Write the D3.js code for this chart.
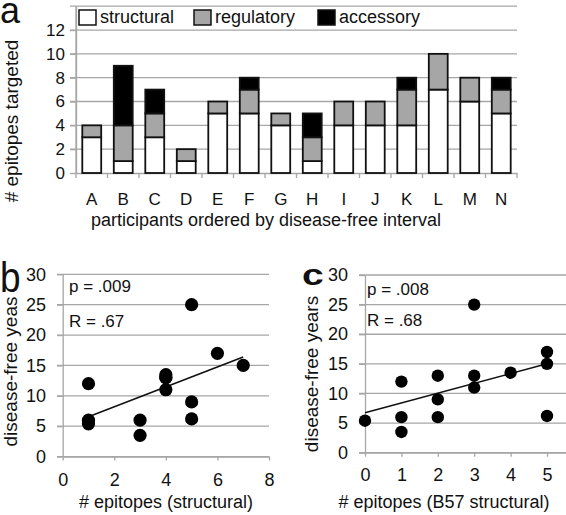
<!DOCTYPE html>
<html>
<head>
<meta charset="utf-8">
<script src="https://cdn.jsdelivr.net/npm/d3@7"></script>
<style>
  html, body { margin: 0; padding: 0; background: #fff; }
  svg { display: block; }
</style>
</head>
<body>
<svg id="chart" width="566" height="515"></svg>
<script>
// ---------- DATA ----------
const categories = ["A","B","C","D","E","F","G","H","I","J","K","L","M","N"];
const structural = [3,1,3,1,5,5,4,1,4,4,4,7,6,5];
const regulatory = [1,3,2,1,1,2,1,2,2,2,3,3,2,2];
const accessory  = [0,5,2,0,0,1,0,2,0,0,1,0,0,1];
const seriesNames = ["structural","regulatory","accessory"];
const seriesColors = ["#ffffff","#a6a6a6","#000000"];
const yTicksA = [0,2,4,6,8,10,12];
const gridA = [2,4,6,8,10,12,14];

const diseaseFree = [3.5,5.4,6,6,6.2,9,11,12,13,13,13.5,15,17,25];
const epitopesB57 = [1,0,1,2,5,2,3,1,2,3,4,5,5,3];
const xTicksB = [0,2,4,6,8];
const xTicksC = [0,1,2,3,4,5];
const yTicksBC = [0,5,10,15,20,25,30];
const statsB = ["p = .009","R = .67"];
const statsC = ["p = .008","R = .68"];

// ---------- SETUP ----------
const FONT = "'Liberation Sans', Arial, Helvetica, sans-serif";
const GRID = "#a6a6a6";
const svg = d3.select("#chart").style("font-family", FONT);
svg.append("rect").attr("width",566).attr("height",515).attr("fill","#fff");

// ---------- PANEL A ----------
const xA = d3.scaleBand().domain(categories).range([76, 517]).padding(0);
const yA = d3.scaleLinear().domain([0,14]).range([173, 6.2]);
const gA = svg.append("g");

gA.selectAll("line.grid").data(gridA).join("line")
  .attr("x1", 70).attr("x2", 517)
  .attr("y1", d => yA(d)).attr("y2", d => yA(d))
  .attr("stroke", GRID).attr("stroke-width", 1.3);

// y axis
const axA = gA.append("g").attr("transform","translate(76,0)")
  .call(d3.axisLeft(yA).tickValues(yTicksA).tickSize(6).tickSizeOuter(0).tickPadding(5));
axA.select(".domain").attr("stroke", GRID).attr("stroke-width",1.3);
axA.selectAll(".tick line").attr("stroke", GRID).attr("stroke-width",1.3);
axA.selectAll("text").attr("font-size", 17).attr("font-family", FONT).attr("fill","#111");
gA.append("line").attr("x1",76).attr("x2",76).attr("y1",yA(14)).attr("y2",yA(0))
  .attr("stroke",GRID).attr("stroke-width",1.3);

// x axis
const axAx = gA.append("g").attr("transform",`translate(0,${yA(0)})`)
  .call(d3.axisBottom(xA).tickSize(0).tickPadding(20));
axAx.select(".domain").attr("stroke", GRID).attr("stroke-width",1.3);
axAx.selectAll("text").attr("font-size", 17).attr("font-family", FONT).attr("fill","#111");
const bounds = categories.map(c => xA(c)).concat([xA.range()[1]]);
gA.selectAll("line.xt").data(bounds).join("line")
  .attr("x1", d => d).attr("x2", d => d)
  .attr("y1", yA(0)).attr("y2", yA(0)+5)
  .attr("stroke", GRID).attr("stroke-width",1.3);

// stacked bars
const rows = categories.map((c,i) => ({cat:c, structural:structural[i], regulatory:regulatory[i], accessory:accessory[i]}));
const stacked = d3.stack().keys(seriesNames)(rows);
const bw = xA.bandwidth()*0.6;
gA.selectAll("g.layer").data(stacked).join("g")
  .attr("fill", (d,i) => seriesColors[i])
  .selectAll("rect").data(d => d.filter(s => s[1] > s[0])).join("rect")
  .attr("x", d => xA(d.data.cat) + xA.bandwidth()*0.2)
  .attr("width", bw)
  .attr("y", d => yA(d[1]))
  .attr("height", d => yA(d[0]) - yA(d[1]))
  .attr("stroke","#111").attr("stroke-width",1.8);

// legend
const legX = [79, 194, 318];
seriesNames.forEach((n,i) => {
  gA.append("rect").attr("x", legX[i]).attr("y", 10).attr("width", 17).attr("height", 15)
    .attr("fill", seriesColors[i]).attr("stroke","#111").attr("stroke-width",1.5);
  gA.append("text").attr("x", legX[i]+21).attr("y", 23).text(n)
    .attr("font-size", 18).attr("fill","#111");
});

// titles
gA.append("text").attr("x", 266).attr("y", 226).attr("text-anchor","middle")
  .attr("font-size", 18).attr("fill","#111").text("participants ordered by disease-free interval");
gA.append("text").attr("transform","translate(17.5,121) rotate(-90)").attr("text-anchor","middle")
  .attr("font-size", 19).attr("fill","#111").text("# epitopes targeted");
svg.append("text").attr("x", 0).attr("y", 23).attr("font-size", 36).attr("fill","#111").text("a");

// ---------- SCATTER PANELS ----------
function scatter(opts) {
  const {xs, ys, xDomain, xRange, yRange, xTicks, gridLeft, stats, statsX, statsY,
         title, titleX, ytitle, ytitleX, ytitleY, r, labelPad} = opts;
  const x = d3.scaleLinear().domain(xDomain).range(xRange);
  const y = d3.scaleLinear().domain([0,30]).range(yRange);
  const g = svg.append("g");
  const xEnd = xRange[1];
  g.selectAll("line.grid").data(yTicksBC).join("line")
    .attr("x1", gridLeft).attr("x2", xEnd)
    .attr("y1", d => y(d)).attr("y2", d => y(d))
    .attr("stroke", GRID).attr("stroke-width", 1.3);
  const ay = g.append("g").attr("transform", `translate(${x(0)},0)`)
    .call(d3.axisLeft(y).tickValues(yTicksBC).tickSize(x(0)-gridLeft).tickSizeOuter(0).tickPadding(11));
  ay.select(".domain").attr("stroke", GRID).attr("stroke-width",1.3);
  ay.selectAll(".tick line").attr("stroke", GRID).attr("stroke-width",1.3);
  ay.selectAll("text").attr("font-size", 18).attr("font-family", FONT).attr("fill","#111");
  const ax = g.append("g").attr("transform", `translate(0,${y(0)})`)
    .call(d3.axisBottom(x).tickValues(xTicks).tickFormat(d3.format("d")).tickSize(4).tickSizeOuter(0).tickPadding(labelPad));
  ax.select(".domain").attr("stroke", GRID).attr("stroke-width",1.3);
  ax.selectAll(".tick line").attr("stroke", GRID).attr("stroke-width",1.3);
  ax.selectAll("text").attr("font-size", 18).attr("font-family", FONT).attr("fill","#111");

  // regression line (least squares)
  const mx = d3.mean(xs), my = d3.mean(ys);
  const slope = d3.sum(xs, (v,i) => (v-mx)*(ys[i]-my)) / d3.sum(xs, v => (v-mx)*(v-mx));
  const icpt = my - slope*mx;
  const ext = d3.extent(xs);
  g.append("line")
    .attr("x1", x(ext[0])).attr("y1", y(icpt + slope*ext[0]))
    .attr("x2", x(ext[1])).attr("y2", y(icpt + slope*ext[1]))
    .attr("stroke","#111").attr("stroke-width",1.6);

  g.selectAll("circle").data(xs.map((v,i) => [v, ys[i]])).join("circle")
    .attr("cx", d => x(d[0])).attr("cy", d => y(d[1])).attr("r", r).attr("fill","#000");

  stats.forEach((s,i) => g.append("text").attr("x", statsX).attr("y", statsY[i])
    .attr("font-size", 17).attr("fill","#111").text(s));
  g.append("text").attr("x", titleX).attr("y", 508).attr("text-anchor","middle")
    .attr("font-size", 18).attr("fill","#111").text(title);
  g.append("text").attr("transform", `translate(${ytitleX},${ytitleY}) rotate(-90)`)
    .attr("text-anchor","middle").attr("font-size", 19).attr("fill","#111").text(ytitle);
}

scatter({
  xs: structural, ys: diseaseFree, xDomain:[0,8], xRange:[62.7,269], yRange:[456.6,274.3],
  xTicks: xTicksB, gridLeft: 57, stats: statsB, statsX: 69, statsY:[292,327],
  title:"# epitopes (structural)", titleX:166, ytitle:"disease-free yeas", ytitleX:17.3, ytitleY:371.5,
  r:6.6, labelPad:12.5
});
scatter({
  xs: epitopesB57, ys: diseaseFree, xDomain:[0,6], xRange:[365,583.4], yRange:[452.7,275],
  xTicks: xTicksC, gridLeft: 359, stats: statsC, statsX: 367, statsY:[295,326],
  title:"# epitopes (B57 structural)", titleX:444, ytitle:"disease-free years", ytitleX:317.5, ytitleY:374,
  r:6.2, labelPad:12
});

svg.append("text").attr("transform","translate(0,292) scale(0.88,1)")
  .attr("font-size", 42).attr("fill","#111").text("b");
svg.append("text").attr("transform","translate(302,285) scale(1.3,1)")
  .attr("font-size", 30).attr("font-weight","bold").attr("fill","#111").text("c");
</script>
</body>
</html>
